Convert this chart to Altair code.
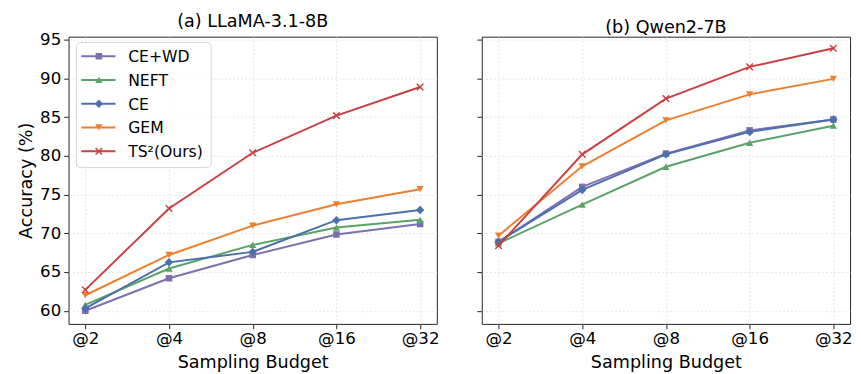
import altair as alt
import pandas as pd

budgets = ["@2", "@4", "@8", "@16", "@32"]
methods = ["CE+WD", "NEFT", "CE", "GEM", "TS²(Ours)"]
colors = ["#7E70B0", "#5AA366", "#4C6FAE", "#EE7F2D", "#C8403F"]
shapes = ["square", "triangle-up", "diamond", "triangle-down", "M-1,-1L1,1M-1,1L1,-1"]
sizes = [45, 55, 75, 55, 45]
y_ticks = [60, 65, 70, 75, 80, 85, 90, 95]

llama_ce_wd = [60.0, 64.2, 67.2, 69.85, 71.2]
llama_neft = [60.75, 65.45, 68.5, 70.75, 71.75]
llama_ce = [60.3, 66.25, 67.6, 71.7, 73.0]
llama_gem = [62.0, 67.2, 71.0, 73.75, 75.7]
llama_ts2 = [62.7, 73.2, 80.4, 85.2, 88.9]

qwen_ce_wd = [68.9, 76.0, 80.3, 83.3, 84.7]
qwen_neft = [68.7, 73.7, 78.6, 81.7, 83.9]
qwen_ce = [68.9, 75.6, 80.2, 83.1, 84.7]
qwen_gem = [69.7, 78.65, 84.6, 87.95, 89.95]
qwen_ts2 = [68.4, 80.2, 87.4, 91.5, 93.9]

FONT = "DejaVu Sans"
W, H = 377, 294


def panel(series, title, first):
    rows = []
    for m, vals in zip(methods, series):
        for b, v in zip(budgets, vals):
            rows.append({"method": m, "budget": b, "acc": v})
    df = pd.DataFrame(rows)

    x = alt.X("budget:O", sort=budgets,
              scale=alt.Scale(type="point", padding=0.2),
              axis=alt.Axis(title="Sampling Budget", labelAngle=0, grid=True,
                            labelPadding=2, titlePadding=8))
    if first:
        yax = alt.Axis(title="Accuracy (%)", values=y_ticks, grid=True,
                       labelPadding=3, titlePadding=4)
    else:
        yax = alt.Axis(title=None, values=y_ticks, labels=False, grid=True)
    y = alt.Y("acc:Q", scale=alt.Scale(domain=[58.3, 95.4], nice=False, zero=False), axis=yax)
    color = alt.Color("method:N", scale=alt.Scale(domain=methods, range=colors), legend=None)

    layers = []
    for i, m in enumerate(methods):
        sub = alt.Chart(df).transform_filter(alt.datum.method == m)
        layers.append(sub.mark_line(strokeWidth=2).encode(x=x, y=y, color=color))
        if i == 4:
            pt = sub.mark_point(filled=False, shape=shapes[i], size=sizes[i], strokeWidth=1.5, opacity=1)
        else:
            pt = sub.mark_point(filled=True, shape=shapes[i], size=sizes[i], opacity=1)
        layers.append(pt.encode(x=x, y=y, color=color))

    if first:
        one = pd.DataFrame({"k": [0]})
        layers.append(alt.Chart(one).mark_rect(fill="white", stroke="#cccccc", strokeWidth=1,
                                               cornerRadius=4, opacity=0.85).encode(
            x=alt.value(8), x2=alt.value(146), y=alt.value(6), y2=alt.value(134)))
        for i, m in enumerate(methods):
            yy = 20 + 24.3 * i
            c = alt.Chart(one)
            layers.append(c.mark_rule(color=colors[i], strokeWidth=2).encode(
                x=alt.value(13), x2=alt.value(48), y=alt.value(yy)))
            if i == 4:
                lp = c.mark_point(filled=False, shape=shapes[i], size=sizes[i], strokeWidth=1.5,
                                  color=colors[i], opacity=1)
            else:
                lp = c.mark_point(filled=True, shape=shapes[i], size=sizes[i], color=colors[i], opacity=1)
            layers.append(lp.encode(x=alt.value(31), y=alt.value(yy)))
            layers.append(c.mark_text(text=m, align="left", baseline="middle", font=FONT,
                                      fontSize=16, color="black").encode(
                x=alt.value(61), y=alt.value(yy + 1)))

    return alt.layer(*layers).properties(
        width=W, height=H,
        title=alt.TitleParams(title, font=FONT, fontSize=18, fontWeight="normal",
                              anchor="middle", offset=0, color="black"))


left = panel([llama_ce_wd, llama_neft, llama_ce, llama_gem, llama_ts2], "(a) LLaMA-3.1-8B", True)
right = panel([qwen_ce_wd, qwen_neft, qwen_ce, qwen_gem, qwen_ts2], "(b) Qwen2-7B", False)

chart = alt.hconcat(left, right, spacing=37).properties(
    padding={"left": 9, "top": 0, "right": 0, "bottom": 0}
).configure_view(
    stroke="#222222", strokeWidth=1
).configure_axis(
    labelFont=FONT, labelFontSize=17, labelColor="black",
    titleFont=FONT, titleFontSize=18, titleFontWeight="normal", titleColor="black",
    tickColor="#222222", tickSize=5, domain=False,
    gridColor="#dddddd", gridDash=[2, 2], gridWidth=0.8
)

chart.save("out.html", embed_options={"renderer": "svg", "actions": False})
